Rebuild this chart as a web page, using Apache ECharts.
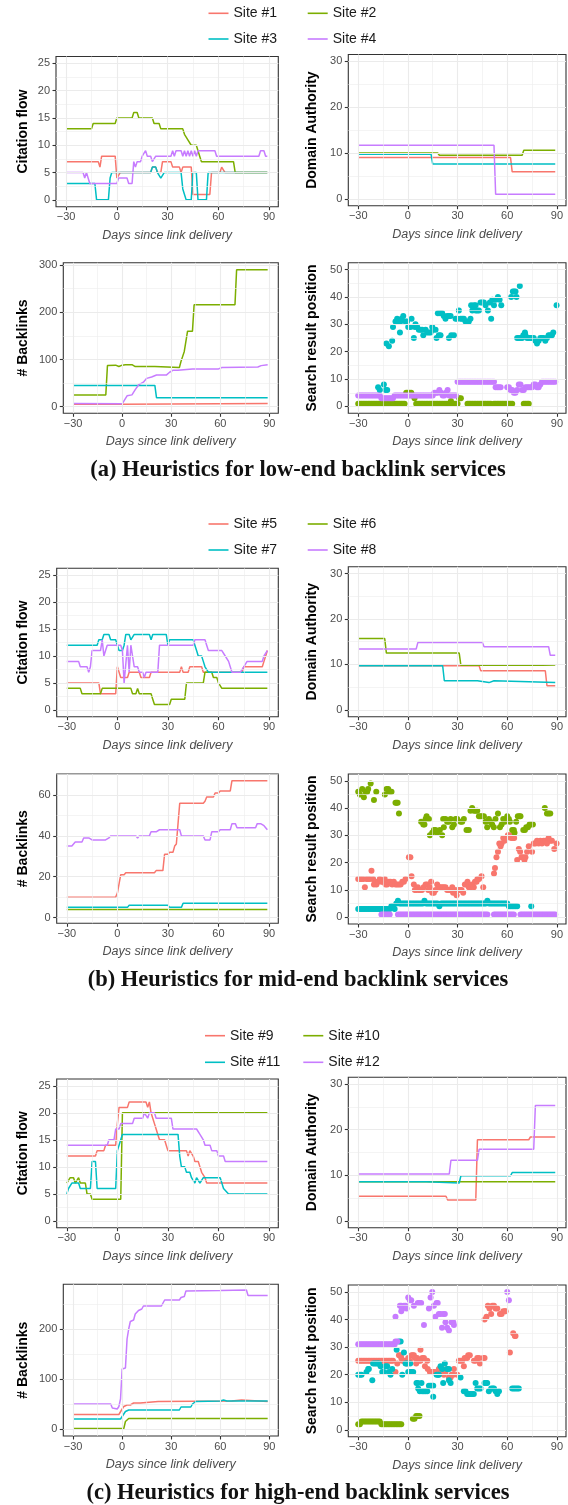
<!DOCTYPE html>
<html><head><meta charset="utf-8">
<script src="https://cdn.jsdelivr.net/npm/echarts@6/dist/echarts.min.js"></script>
<style>html,body{margin:0;padding:0;background:#fff}#c{width:568px;height:1505px}</style>
</head><body><div id="c"></div>
<script>
// ---------- categories / labels ----------
const SITES_A = ['Site #1','Site #2','Site #3','Site #4'];
const SITES_B = ['Site #5','Site #6','Site #7','Site #8'];
const SITES_C = ['Site #9','Site #10','Site #11','Site #12'];
const COLORS = ['#F8766D','#7CAE00','#00BFC4','#C77CFF'];
const CAPTIONS = ['(a) Heuristics for low-end backlink services','(b) Heuristics for mid-end backlink services','(c) Heuristics for high-end backlink services'];
const X_TICKS = [-30,0,30,60,90];
const X_MINOR = [-15,15,45,75];
const CF_TICKS = [0,5,10,15,20,25];
const CF_MINOR = [2.5,7.5,12.5,17.5,22.5];
const DA_TICKS = [0,10,20,30];
const DA_MINOR = [5,15,25];
const BL_A_TICKS = [0,100,200,300];
const BL_A_MINOR = [50,150,250];
const BL_B_TICKS = [0,20,40,60];
const BL_B_MINOR = [10,30,50,70];
const BL_C_TICKS = [0,100,200];
const BL_C_MINOR = [50,150,250];
const SRP_TICKS = [0,10,20,30,40,50];
const SRP_MINOR = [5,15,25,35,45];

// ---------- (a) low-end ----------
const cfA1 = [[-30,7],[-11,7],[-10,6],[-9,8],[-1,8],[0,4],[1,4],[2,5],[20,5],[21,6],[23,6],[24,5],[26,5],[27,7],[32,7],[33,6],[37,6],[38,5],[39,6],[44,6],[45,1],[55,1],[56,5],[61,5],[62,6],[63,6],[64,5],[89,5]];
const cfA2 = [[-30,13],[-15,13],[-14,14],[-1,14],[0,15],[9,15],[10,16],[12,16],[13,15],[21,15],[22,14],[25,14],[26,13],[39,13],[40,12],[41,12],[42,11],[43,11],[44,10],[47,10],[48,9],[49,8],[50,7],[69,7],[70,5],[89,5]];
const cfA3 = [[-30,3],[-13,3],[-12,0],[-5,0],[-4,4],[-3,5],[20,5],[21,6],[23,6],[24,5],[26,4],[27,4],[28,5],[38,5],[39,2],[40,1],[41,0],[44,0],[45,5],[47,5],[48,0],[53,0],[54,5],[89,5]];
const cfA4 = [[-30,5],[-20,5],[-19,4],[-18,5],[-17,5],[-16,3],[0,3],[1,4],[6,4],[7,3],[9,3],[10,7],[11,6],[12,7],[14,7],[15,8],[16,8],[17,9],[18,8],[20,8],[21,7],[22,7],[23,8],[32,8],[33,9],[34,8],[35,9],[38,9],[39,8],[40,9],[41,8],[42,9],[43,8],[44,9],[45,8],[46,9],[47,8],[48,9],[58,9],[59,8],[84,8],[85,9],[87,9],[88,8],[89,8]];
const daA1 = [[-30,9],[62,9],[63,5.9],[89,5.9]];
const daA2 = [[-30,10],[18,10],[19,9.5],[69,9.5],[70,10.6],[89,10.6]];
const daA3 = [[-30,9.75],[14,9.75],[15,7.6],[89,7.6]];
const daA4 = [[-30,11.7],[52,11.7],[53,1],[89,1]];
const blA1 = [[-30,5],[0,5],[1,7],[89,7]];
const blA2 = [[-30,25],[-10,25],[-9,87],[-4,88],[-2,85],[0,88],[2,89],[6,89],[8,85],[20,85],[21,83],[35,83],[36,96],[37,97],[38,117],[39,117],[40,160],[43,160],[44,216],[69,216],[70,290],[89,290]];
const blA3 = [[-30,45],[20,45],[21,19],[89,19]];
const blA4 = [[-30,7],[0,6],[1,10],[3,23],[6,25],[8,36],[10,46],[13,52],[15,60],[18,63],[19,65],[21,67],[27,67],[29,73],[31,77],[34,77],[43,80],[59,80],[61,83],[83,84],[85,87],[89,89]];
const srpA1 = [];
const srpA2 = [[-30,1],[-29,1],[-28,1],[-27,1],[-26,1],[-25,1],[-24,1],[-23,1],[-22,1],[-21,1],[-20,1],[-19,1],[-18,1],[-17,1],[-16,1],[-15,1],[-14,1],[-13,1],[-12,1],[-11,1],[-10,1],[-9,1],[-8,1],[-7,1],[-6,1],[-5,1],[-4,1],[-3,1],[-2,1],
 [-1,5],[0,5],[1,5],[2,5],[3,4],[4,3],
 [5,1],[6,1],[7,1],[8,1],[9,1],[10,1],[11,1],[12,1],[13,1],[14,1],[15,1],[16,1],[17,1],[18,1],[19,1],[20,1],[21,1],[22,1],[23,1],[24,1],[25,1],
 [26,2],[27,1],[28,1],[29,1],[30,1],[31,3],[32,3],
 [36,1],[37,1],[38,1],[39,1],[40,1],[41,1],[42,1],[43,1],[44,1],[45,1],[46,1],[47,1],[48,1],[49,1],[50,1],
 [52,1],[53,1],[54,1],[55,1],[56,1],[57,1],[58,1],[59,1],[60,1],[61,1],[62,1],[63,1],
 [70,1],[71,1],[72,1],[73,1]];
const srpA3 = [[-18,7],[-17,6],[-14.5,8],[-13.5,6],[-12.5,6],[-13,23],[-11.5,22],[-9.5,24],[-9,29],[-7.5,31],[-6.5,32],[-5.5,31],[-4.5,31],[-4.8,27],[-3.8,32],[-2.8,33],[-1.5,31],[-0.5,31],[0.2,29],[1.6,29],[2.2,32],[3.6,25],[4.2,29],[4.6,30],[5.6,29],[6.6,28],[7.6,28],[8.6,28],[9.3,26],[10.7,28],[11.7,27],[12.7,27],[13.7,27],[14.7,29],[15.3,28],[16.7,28],[17.3,25],[18.1,34],[18.7,26],[19.7,26],[19.5,34],[20.7,34],[21.7,33],[22.7,32],[23.7,33],[24.8,25],[24.8,33],[25.8,33],[26.2,26],[27.8,26],[28.8,32],[29.8,32],[30.8,35],[31.8,32],[32.8,32],[33.8,32],[34.8,31],[35.8,31],[36.8,31],[37.8,32],[38.2,37],[38.9,35],[39.9,37],[40.9,37],[40.9,35],[41.9,35],[42.9,35],[43.9,38],[44.9,38],[45.9,38],[46.9,37],[48.3,35],[49.5,38],[50.3,32],[51,39],[52,37],[53,39],[54.4,40],[55.4,39],[56.4,37],[62.4,40],[63.4,42],[64.2,42],[65,42],[65.6,40],[67.6,44],[66,25],[67,25],[68,25],[69,25],[69.7,26],[70.7,27],[71,26],[72,25],[73,25],[74,25],[75,25],[76,25],[77,24],[78,23],[79,24],[80,25],[81,25],[82,25],[83,24],[84,25],[85,26],[86,26],[87,26],[87.8,27],[89.8,37]];
const srpA4 = [[-30,4],[-29,4],[-28,4],[-27,4],[-26,4],[-25,4],[-24,4],[-23,4],[-22,4],[-21,4],[-20,4],[-19,4],[-18,4],[-17,4],
 [-16,3],[-15,3],[-14,3],[-13,3],[-12,3],[-11,3],[-10,3],[-9,3],
 [-8,4],[-7,4],[-6,4],[-5,4],[-4,4],[-3,4],[-2,4],[-1,4],[0,4],[1,4],[2,4],[3,4],[4,4],[5,4],[6,4],[7,4],[8,4],[9,4],[10,4],[11,4],[12,4],[13,4],[14,4],[15,4],
 [16,5],[17,5],[18,5],[19,6],[20,5],[21,4],[22,4],[23,5],[24,6],[25,4],[26,4],[27,4],[28,4],[29,4],
 [30,9],[31,9],[32,9],[33,9],[34,9],[35,9],[36,9],[37,9],[38,9],[39,9],[40,9],[41,9],[42,9],[43,9],[44,9],[45,9],[46,9],[47,9],[48,9],[49,9],[50,9],[51,9],[52,9],
 [53,7],[54,7],[55,7],[56,7],
 [60,7],[61,7],[62,6],[63,6],[64,5],[65,5],[66,6],[67,8],[68,8],[69,6],[70,6],[71,7],[72,7],[73,7],[74,7],[75,7],[76,8],[77,8],[78,7],[79,7],[80,8],
 [81,9],[82,9],[83,9],[84,9],[85,9],[86,9],[87,9],[88,9],[89,9]];

// ---------- (b) mid-end ----------
const cfB5 = [[-30,5],[-11,5],[-10,3],[-1,3],[0,8],[1,8],[2,6],[6,6],[7,7],[13,7],[14,6],[19,6],[20,7],[37,7],[38,8],[39,7],[42,7],[43,8],[50,8],[51,7],[74,7],[75,8],[86,8],[87,9],[88,10],[89,11]];
const cfB6 = [[-30,4],[-22,4],[-21,3],[-10,3],[-9,4],[8,4],[9,3],[11,3],[12,4],[13,3],[20,3],[21,2],[22,1],[31,1],[32,2],[40,2],[41,5],[51,5],[52,7],[56,7],[57,6],[59,6],[60,5],[61,5],[62,4],[89,4]];
const cfB7 = [[-30,12],[-12,12],[-11,13],[-9,13],[-8,14],[-5,14],[-4,13],[-1,13],[0,12],[1,11],[3,11],[4,12],[5,14],[7,14],[8,13],[9,13],[10,14],[19,14],[20,13],[21,14],[29,14],[30,12],[31,13],[45,13],[46,12],[47,11],[48,10],[50,10],[51,9],[52,8],[54,7],[89,7]];
const cfB8 = [[-30,9],[-23,9],[-22,8],[-18,8],[-17,7],[-16,8],[-15,11],[-10,11],[-9,13],[-8,10],[-7,11],[-6,12],[2,12],[3,11],[4,5],[5,5],[6,12],[7,7],[8,12],[9,10],[10,8],[12,8],[13,7],[15,7],[16,6],[17,7],[24,7],[25,12],[45,12],[46,13],[52,13],[53,12],[54,11],[62,11],[64,10],[66,9],[68,7],[73,7],[75,8],[77,9],[86,9],[87,10],[89,11]];
const daB5 = [[-30,9.7],[43,9.7],[44,8.6],[83,8.6],[84,5.3],[89,5.3]];
const daB6 = [[-30,15.7],[-14,15.7],[-13,12.5],[31,12.5],[32,9.8],[81,9.8],[82,9.9],[89,9.9]];
const daB7 = [[-30,9.7],[21,9.7],[22,6.4],[42,6.4],[43,6],[49,6],[50,6.4],[52,6.4],[53,6],[89,6]];
const daB8 = [[-30,13.4],[5,13.4],[6,14.8],[45,14.8],[46,13.9],[85,13.9],[86,12],[89,12]];
const blB5 = [[-30,10],[-1,10],[0,12],[1,12],[2,21],[4,21],[5,22],[22,22],[23,23],[27,23],[28,31],[30,31],[31,32],[33,32],[34,35],[35,36],[36,36],[37,56],[51,56],[52,57],[53,59],[57,59],[58,61],[60,61],[61,62],[67,62],[68,67],[89,67]];
const blB6 = [[-30,4],[89,4]];
const blB7 = [[-30,5],[6,5],[7,6],[30,6],[31,5],[38,5],[39,7],[89,7]];
const blB8 = [[-30,35],[-27,35],[-25,37],[-21,37],[-20,39],[-17,39],[-15,38],[-7,38],[-5,39],[-4,40],[11,40],[12,39],[13,40],[19,40],[20,42],[23,42],[25,43],[37,43],[38,40],[51,40],[52,38],[55,38],[56,42],[60,42],[61,43],[67,43],[68,46],[70,46],[71,44],[82,44],[83,46],[85,46],[87,45],[88,44],[89,43]];
const srpB5 = [[-30,14],[-29,14],[-28,14],[-27,14],[-26,11],[-25,14],[-24,14],[-23,14],[-22,17],[-21,14],[-20.5,12],[-20,13],[-19,12],[-18,13],[-17,14],[-16,13],[-15,13],[-14,14],[-13.5,12],[-12.5,12],[-11.5,13],[-10.5,13],[-9.5,12],[-8.5,13],[-7.5,12],[-6.5,12],[-5.5,12],[-4.4,12],[-3.4,13],[-2.4,13],[-1.4,14],[0.6,22],[1.5,22],[2.2,15],[3.6,12],[4.2,10],[5,10],[6,11],[6.5,10],[7.5,10],[8.5,10],[9.5,11],[10.7,12],[11.7,12],[12.3,10],[13.3,11],[14,13],[14.7,9],[15.7,9],[16.7,10],[17.7,12],[18.7,11],[19.7,11],[20.7,11],[21.7,11],[22.7,11],[23.7,10],[24.8,10],[25.8,10],[26.8,11],[27.3,9],[28.4,10],[29.4,8],[30.4,10],[31.4,10],[32.4,10],[33.4,9],[34.4,12],[35.4,12],[36,13],[36.8,11],[37.8,11],[38.8,12],[39.8,11],[40.5,13],[41.5,13],[42,14],[43,14],[44.5,15],[45.5,11],[52,16],[52.6,18],[53.5,22],[54.4,24],[55.2,27],[56,26],[56.6,27],[57.6,29],[58.4,28],[59.4,29],[60.4,30],[61.4,30],[62.4,29],[63.4,29],[64.2,29],[66,21],[67,25],[67.8,24],[68.6,22],[69.6,22],[70.4,21],[71,22],[72,24],[73,26],[75,24],[76,27],[77,27],[78,28],[79,27],[80,28],[81,27],[82,28],[83,28],[84,27],[85,29],[86,28],[87,28],[88.4,25],[89.8,27]];
const srpB6 = [[-30,46],[-29,45],[-27.6,47],[-26.6,44],[-25.6,46],[-24.6,46],[-24,47],[-22.5,49],[-20.5,43],[-19.1,46],[-13.9,45],[-12.9,47],[-11.9,47],[-11.5,46],[-10.5,46],[-9.9,46],[-7.5,42],[-6.9,42],[-6.2,42],[-5.4,38],[8,35],[9.3,34],[10,34],[10.7,36],[11.3,37],[12.7,36],[13.3,30],[14.7,31],[15.7,32],[16.7,32],[17.7,31],[19.3,32],[20.7,30],[21.3,36],[21.7,33],[22.7,36],[23.7,35],[24.8,35],[25.8,36],[26.8,33],[27.8,34],[28.8,36],[29.8,36],[31.8,35],[32.8,35],[33.8,36],[35.4,32],[36.8,32],[37.8,39],[38.8,40],[39.9,39],[40.9,39],[41.9,39],[42.9,37],[43.9,37],[44.9,37],[45.9,37],[46.9,35],[47.9,33],[48.9,36],[49.9,35],[50.9,34],[51.9,33],[52.9,36],[54.4,38],[55.6,33],[56.6,34],[57.6,36],[58.6,35],[60,37],[61,36],[61.6,35],[63,32],[64,32],[64.4,31],[65.4,35],[66.4,37],[67.4,37],[68,37],[69.7,32],[70.7,32],[71.5,33],[72.5,33],[73.5,34],[74.5,34],[75.5,34],[82.7,40],[84,38],[85,38],[86,38]];
const srpB7 = [[-30,3],[-29,3],[-28,3],[-27,3],[-26,3],[-25,3],[-24,3],[-23,3],[-22,3],[-21,3],[-20,3],[-19,3],[-18,3],[-17,3],[-16,3],[-15,3],[-14,3],[-13,3],[-12,3],[-11,3],
 [-10,4],[-9,4],[-8,3],[-7,5],[-6,6],
 [-5,5],[-4,5],[-3,5],[-2,5],[-1,5],[0,5],[1,5],[2,5],[3,5],[4,5],[5,5],[6,5],[7,5],[8,5],[9,5],[10,6],
 [11,5],[12,5],[13,5],[14,5],[15,5],[16,5],[17,5],[18,5],[19,4],
 [20,5],[21,5],[22,5],[23,5],[24,5],[25,5],[26,5],[27,5],[28,5],[29,5],[30,5],[31,5],[32,5],[33,5],[34,5],[35,5],[36,5],[37,5],[38,5],[39,5],[40,5],[41,5],[42,5],[43,5],[44,5],[45,5],[46,5],[47,5],[48,6],
 [49,5],[50,5],[51,5],[52,5],[53,5],[54,5],[55,5],[56,5],[57,5],[58,5],[59,5],[60,5],
 [61,4],[62,4],[63,4],[64,4],[65,4],[66,4],[74.5,4]];
const srpB8 = [[-16,1],[-15,1],[-14,1],[-13,1],[-12,1],[-11,1],
 [-6,1],[-5,1],[-4,1],[-3,1],[-2,1],[-1,1],[0,1],[1,1],[2,1],[3,1],[4,1],[5,1],[6,1],[7,1],[8,1],[9,1],[10,1],[11,1],[12,1],[13,1],[14,1],[15,1],[16,1],[17,1],[18,1],[19,1],[20,1],[21,1],[22,1],[23,1],[24,1],[25,1],[26,1],[27,1],[28,1],[29,1],[30,1],[31,1],[32,1],[33,1],[34,1],[35,1],[36,1],[37,1],[38,1],[39,1],[40,1],[41,1],[42,1],[43,1],[44,1],[45,1],[46,1],[47,1],[48,1],
 [52,1],[53,1],[54,1],[55,1],[56,1],[57,1],[58,1],[59,1],[60,1],[61,1],[62,1],[63,1],[64,1],
 [68,1],[69,1],[70,1],[71,1],[72,1],[73,1],[74,1],[75,1],[76,1],[77,1],[78,1],[79,1],[80,1],[81,1],[82,1],[83,1],[84,1],[85,1],[86,1],[87,1],[88,1],[89,1]];

// ---------- (c) high-end ----------
const cfC9 = [[-30,12],[-13,12],[-12,13],[-8,13],[-7,14],[-1,14],[0,18],[1,21],[6,21],[7,22],[17,22],[18,21],[19,22],[20,20],[21,19],[22,18],[23,17],[24,16],[25,15],[28,15],[29,14],[30,13],[41,13],[42,12],[43,13],[44,13],[45,12],[46,11],[48,11],[49,10],[50,9],[51,9],[52,8],[53,7],[89,7]];
const cfC10 = [[-30,7],[-29,7],[-28,8],[-26,8],[-25,7],[-24,7],[-23,8],[-22,7],[-19,7],[-18,5],[-16,5],[-15,4],[2,4],[3,20],[89,20]];
const cfC11 = [[-30,5],[-29,6],[-28,6],[-27,7],[-23,7],[-22,6],[-16,6],[-15,11],[-13,11],[-12,6],[-1,6],[0,13],[1,14],[2,15],[3,16],[36,16],[37,12],[38,10],[40,10],[41,9],[43,9],[44,8],[45,8],[46,7],[47,8],[48,8],[49,7],[50,7],[51,8],[61,8],[62,7],[63,6],[64,6],[66,5],[89,5]];
const cfC12 = [[-30,14],[-6,14],[-5,15],[-2,15],[-1,17],[1,17],[2,18],[9,18],[10,19],[15,19],[16,20],[17,20],[18,19],[19,20],[22,20],[23,19],[32,19],[33,17],[47,17],[49,16],[51,15],[52,14],[55,14],[56,13],[59,13],[60,12],[63,12],[64,11],[89,11]];
const daC9 = [[-30,5.4],[23,5.4],[24,4.6],[41,4.6],[42,17.8],[73,17.8],[74,18.4],[89,18.4]];
const daC10 = [[-30,8.6],[89,8.6]];
const daC11 = [[-30,8.6],[11,8.6],[12,8.3],[31,8.3],[32,9.9],[62,9.9],[63,10.6],[89,10.6]];
const daC12 = [[-30,10.3],[25,10.3],[26,13.3],[42,13.3],[43,15.7],[76,15.7],[77,25.3],[89,25.3]];
const blC9 = [[-30,29],[-2,29],[-1,26],[0,40],[1,45],[3,48],[5,48],[6,50],[7,52],[11,52],[12,55],[22,55],[23,56],[67,56],[68,58],[73,58],[74,55],[89,55]];
const blC10 = [[-30,1],[1,1],[2,15],[3,18],[4,21],[89,21]];
const blC11 = [[-30,20],[-1,20],[0,25],[1,30],[2,35],[4,38],[35,38],[36,44],[42,44],[43,50],[45,55],[46,56],[60,56],[62,58],[64,56],[89,56]];
const blC12 = [[-30,50],[-7,50],[-6,42],[-3,40],[-2,45],[-1,60],[0,120],[2,122],[3,180],[4,200],[5,215],[7,218],[8,230],[10,237],[12,240],[13,246],[24,246],[25,250],[26,258],[35,258],[36,263],[38,265],[39,276],[60,277],[76,278],[77,267],[89,267]];
const srpC9 = [[-30,25],[-29,25],[-28,25],[-27,25],[-26,25],[-25,25],[-24,25],[-23,25],[-22,25],[-21,25],[-20,25],[-19,25],[-18,25],[-17,25],[-16,25],[-15,25],[-14,25],[-13,25],[-12,25],[-11,25],[-10,25],[-9,25],
 [-7.5,21],[-6.4,24],[-5.4,27],[-4.4,27],[-4,26],[-3.4,25],[-2.4,25],[-1.4,25],[-0.8,24],[0.2,26],[1.2,25],[2.2,27],[3,27],[3.6,27],[4.2,26],[5,24],[5.6,26],[6.6,25],[7.6,29],[7.6,25],[8.7,26],[9.7,26],[10.3,23],[11.7,25],[12,22],[13.3,21],[14.3,21],[15.3,21],[16.3,21],[17.7,21],[18.7,22],[19.7,21],[20.7,22],[21.7,20],[22.7,21],[23.7,22],[24.8,19],[25.8,19],[26.4,20],[27.4,20],[27.8,22],[29.8,20],[30.8,25],[31.8,25],[32.8,25],[33.8,23],[34.3,26],[35.8,26],[36.4,27],[37.4,27],[39.9,25],[40.9,25],[41.9,26],[42.9,26],[43.5,24],[45.5,26],[46.3,26],[46.3,40],[47.5,41],[48.3,45],[49.3,44],[50.3,42],[51,45],[52,45],[53,44],[54,44],[55.6,42],[56.6,42],[57.6,43],[58.6,43],[59,43],[61.6,28],[63.6,35],[64.6,34],[65,34]];
const srpC10 = [[-30,2],[-29,2],[-28,3],[-27,3],[-26,3],[-25,3],[-24,3],[-23,3],[-22,3],[-21,3],[-20,3],[-19,3],[-18,3],[-17,3],
 [-16,2],[-15,2],[-14,2],[-13,2],[-12,2],[-11,2],[-10,2],[-9,2],[-8,2],[-7,2],[-6,2],[-5,2],[-4,2],
 [3,4],[4,4],[5,5],[6,5],[7,5]];
const srpC11 = [[-30,20],[-29,20],[-28,20],[-25,21],[-24,22],[-23.6,22],[-21.5,18],[-21,24],[-20,24],[-19,24],[-18,24],[-17.5,24],[-16.5,23],[-15.5,21],[-14.5,21],[-13.5,23],[-12.5,23],[-11.5,21],[-10.5,20],[-9.5,22],[-6.8,29],[-5.4,32],[-4.4,32],[-3.4,20],[-2.4,28],[-1.4,24],[-0.4,24],[0.2,21],[1.2,21],[1.4,24],[2.2,21],[3.2,21],[5.2,17],[6,17],[6.2,15],[7.2,14],[8.2,17],[8.6,14],[9.6,14],[10.6,14],[11.7,14],[12.7,16],[13.7,16],[14.7,16],[15.3,12],[15.3,16],[17.3,20],[18.3,20],[18.7,20],[19.7,23],[20.7,22],[21.3,17],[22.3,24],[23.7,22],[24.8,22],[24.8,18],[25.8,17],[31.8,19],[33.8,14],[34.8,14],[35.8,13],[36.8,13],[37.8,13],[38.8,13],[39.8,13],[40.9,17],[41.9,15],[42.9,15],[43.9,15],[46.3,17],[47.3,17],[47.9,17],[48.9,14],[50.3,15],[51.3,15],[52,15],[53,14],[54,13],[55,14],[63,15],[64,15],[65,15],[66,15],[67,15]];
const srpC12 = [[-30,31],[-29,31],[-28,31],[-27,31],[-26,31],[-25,31],[-24,31],[-23,31],[-22,31],[-21,31],[-20,31],[-19,31],[-18,31],[-17,31],[-16,31],[-15,31],[-14,31],[-13,31],[-12,31],[-11,31],[-10,31],[-9,31],[-8,31],
 [-7.5,32],[-6.4,32],[-7.5,41],[-4.8,45],[-4,45],[-3.4,44],[-4,43],[-2.4,45],[-1.4,45],[-0.8,44],[0.2,48],[1.2,47],[2,47],[3.6,45],[6,46],[7,46],[8,46],[9.7,38],[12.7,44],[13.7,48],[14.7,50],[15.7,45],[16.6,41],[17.3,46],[18,46],[18.7,42],[19.7,42],[20.6,37],[21.3,42],[22.3,42],[22.7,39],[23.7,37],[24.8,36],[26.4,39],[27.4,39],[27.8,38],[60,50],[61,47]];

// ---------- layout ----------
const FONT = "'Liberation Sans', Arial, sans-serif";
const XMIN = -36, XMAX = 95.5;
const PANELS = [
  {box:[56,56.5,278.3,206.7], y:[-1.25,26.25], ticks:CF_TICKS, minor:CF_MINOR, name:'Citation flow', gap:26, kind:'line', data:[cfA1,cfA2,cfA3,cfA4], sites:SITES_A},
  {box:[348.3,54.5,566,205.7], y:[-1.5,31.5], ticks:DA_TICKS, minor:DA_MINOR, name:'Domain Authority', gap:29.6, kind:'line', data:[daA1,daA2,daA3,daA4], sites:SITES_A},
  {box:[63.3,262.7,278.3,413.3], y:[-14,305], ticks:BL_A_TICKS, minor:BL_A_MINOR, name:'# Backlinks', gap:33.6, kind:'line', data:[blA1,blA2,blA3,blA4], sites:SITES_A},
  {box:[348.3,262.7,566,413.3], y:[-2.5,52.5], ticks:SRP_TICKS, minor:SRP_MINOR, name:'Search result position', gap:29.6, kind:'scatter', data:[srpA1,srpA2,srpA3,srpA4], sites:SITES_A},
  {box:[56.7,568.3,278.3,716.7], y:[-1.25,26.25], ticks:CF_TICKS, minor:CF_MINOR, name:'Citation flow', gap:27, kind:'line', data:[cfB5,cfB6,cfB7,cfB8], sites:SITES_B},
  {box:[348.3,566.7,566,716.7], y:[-1.5,31.5], ticks:DA_TICKS, minor:DA_MINOR, name:'Domain Authority', gap:29.6, kind:'line', data:[daB5,daB6,daB7,daB8], sites:SITES_B},
  {box:[56.7,774,278.3,923.3], y:[-2.8,70.3], ticks:BL_B_TICKS, minor:BL_B_MINOR, name:'# Backlinks', gap:27, kind:'line', data:[blB5,blB6,blB7,blB8], sites:SITES_B},
  {box:[348.3,774,566,924], y:[-2.5,52.5], ticks:SRP_TICKS, minor:SRP_MINOR, name:'Search result position', gap:29.6, kind:'scatter', data:[srpB5,srpB6,srpB7,srpB8], sites:SITES_B},
  {box:[56.7,1079,278.3,1227.7], y:[-1.25,26.25], ticks:CF_TICKS, minor:CF_MINOR, name:'Citation flow', gap:27, kind:'line', data:[cfC9,cfC10,cfC11,cfC12], sites:SITES_C},
  {box:[348.3,1077.3,566,1227.7], y:[-1.5,31.5], ticks:DA_TICKS, minor:DA_MINOR, name:'Domain Authority', gap:29.6, kind:'line', data:[daC9,daC10,daC11,daC12], sites:SITES_C},
  {box:[63.3,1284.3,278.3,1436], y:[-14,289.4], ticks:BL_C_TICKS, minor:BL_C_MINOR, name:'# Backlinks', gap:33.6, kind:'line', data:[blC9,blC10,blC11,blC12], sites:SITES_C},
  {box:[348.3,1285,566,1436.7], y:[-2.5,52.5], ticks:SRP_TICKS, minor:SRP_MINOR, name:'Search result position', gap:29.6, kind:'scatter', data:[srpC9,srpC10,srpC11,srpC12], sites:SITES_C}
];
const LEGEND_LAYOUT = [
  {sites:SITES_A, rows:[6.3,32], cols:[208.5,307.7]},
  {sites:SITES_B, rows:[517,543], cols:[208.5,307.7]},
  {sites:SITES_C, rows:[1028.7,1055.3], cols:[205,303.3]}
];
const CAPTION_Y = [470.5, 980.5, 1493];

const grid = [], xAxis = [], yAxis = [], series = [];
const gl = (vals, key, w, c) => vals.map(v => ({[key]: v, lineStyle:{color:c, width:w, type:'solid'}}));
PANELS.forEach((p, i) => {
  grid.push({left:p.box[0], top:p.box[1], width:p.box[2]-p.box[0], height:p.box[3]-p.box[1],
    show:true, backgroundColor:'#fff', borderColor:'#333', borderWidth:1.1, containLabel:false});
  xAxis.push({gridIndex:i, type:'value', min:XMIN, max:XMAX,
    splitLine:{show:false}, minorSplitLine:{show:false},
    axisLine:{show:false, onZero:false},
    axisTick:{show:true, customValues:X_TICKS, length:3.5, lineStyle:{color:'#333', width:1.1}},
    axisLabel:{customValues:X_TICKS, color:'#4d4d4d', fontSize:11, margin:5, fontFamily:FONT,
      formatter: v => v < 0 ? '\u2212' + Math.abs(v) : String(v)},
    name:'Days since link delivery', nameLocation:'middle', nameGap:22,
    nameTextStyle:{color:'#4d4d4d', fontSize:12.5, fontStyle:'italic', fontFamily:FONT}});
  yAxis.push({gridIndex:i, type:'value', min:p.y[0], max:p.y[1],
    splitLine:{show:false}, minorSplitLine:{show:false},
    axisLine:{show:false, onZero:false},
    axisTick:{show:true, customValues:p.ticks, length:3.5, lineStyle:{color:'#333', width:1.1}},
    axisLabel:{customValues:p.ticks, color:'#4d4d4d', fontSize:11, margin:6, fontFamily:FONT},
    name:p.name, nameLocation:'middle', nameGap:p.gap,
    nameTextStyle:{color:'#000', fontSize:14, fontWeight:'bold', fontFamily:FONT}});
  series.push({type:'line', xAxisIndex:i, yAxisIndex:i, data:[], z:1, silent:true, animation:false,
    markLine:{silent:true, symbol:['none','none'], label:{show:false}, animation:false,
      lineStyle:{type:'solid'}, emphasis:{disabled:true},
      data:[...gl(X_MINOR,'xAxis',0.6,'#EDEDED'), ...gl(p.minor,'yAxis',0.6,'#EDEDED'),
            ...gl(X_TICKS,'xAxis',1.1,'#EBEBEB'), ...gl(p.ticks,'yAxis',1.1,'#EBEBEB')]}});
  p.data.forEach((d, k) => {
    const s = {type:p.kind, name:p.sites[k], xAxisIndex:i, yAxisIndex:i, data:d, z:2,
      animation:false, silent:true, itemStyle:{color:COLORS[k], opacity:1, borderWidth:0}};
    if (p.kind === 'line') { s.showSymbol = false; s.symbol = 'none'; s.lineStyle = {width:1.5, color:COLORS[k]}; }
    else { s.symbol = 'circle'; s.symbolSize = 6; s.large = false; s.progressive = 0; }
    series.push(s);
  });
});

const legend = [];
LEGEND_LAYOUT.forEach(L => {
  L.sites.forEach((name, k) => {
    legend.push({data:[name], left:L.cols[k % 2], top:L.rows[Math.floor(k / 2)], padding:0,
      icon:'rect', itemWidth:20, itemHeight:1.6, itemGap:0, selectedMode:false,
      textStyle:{fontSize:14, color:'#1a1a1a', fontFamily:FONT}});
  });
});

const graphic = CAPTIONS.map((t, i) => ({type:'text', x:298, y:CAPTION_Y[i], silent:true,
  style:{text:t, font:"bold 22.5px 'Liberation Serif', 'Times New Roman', serif", fill:'#111',
    align:'center', verticalAlign:'middle', textAlign:'center', textVerticalAlign:'middle'}}));

const chart = echarts.init(document.getElementById('c'), null, {renderer:'canvas'});
chart.setOption({animation:false, backgroundColor:'#fff', grid, xAxis, yAxis, series, legend, graphic});
</script>
</body></html>
